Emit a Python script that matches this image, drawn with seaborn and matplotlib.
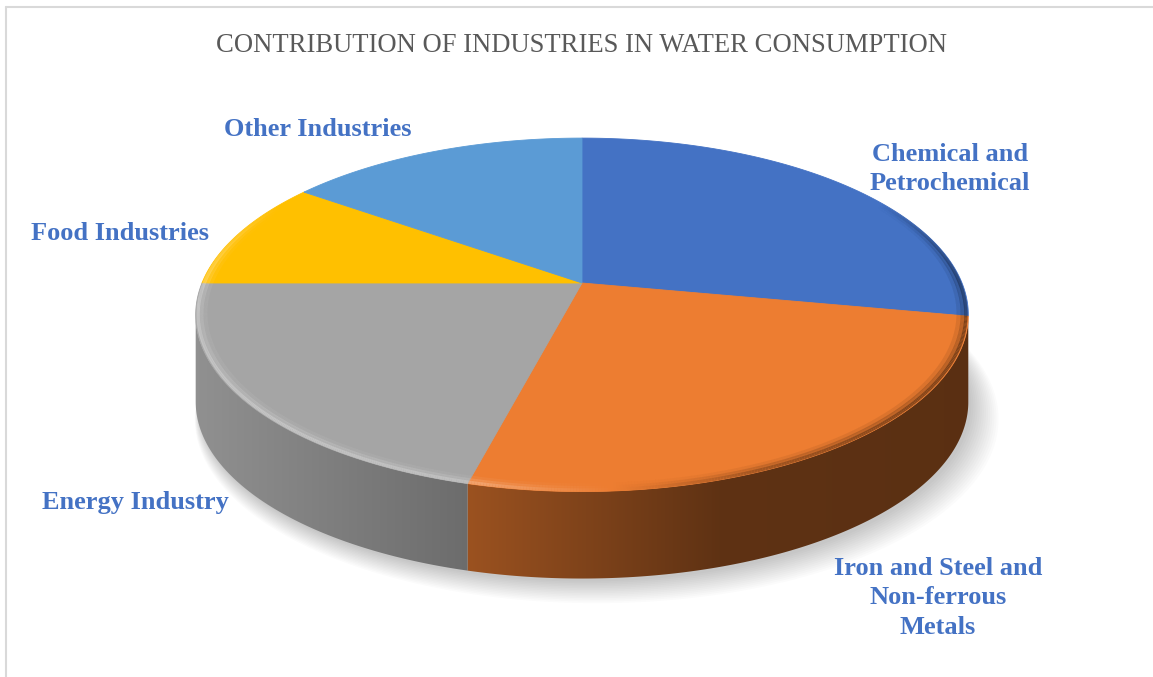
import numpy as np
import matplotlib
matplotlib.use("Agg")
import matplotlib.pyplot as plt
from matplotlib.collections import LineCollection
from matplotlib.patches import Polygon
from matplotlib.colors import to_rgb
import seaborn as sns

# ---- data -------------------------------------------------------------
industries = [
    "Chemical and\nPetrochemical",
    "Iron and Steel and\nNon-ferrous\nMetals",
    "Energy Industry",
    "Food Industries",
    "Other Industries",
]
shares = [28, 26, 21, 10, 15]
slice_colors = ["#4472C4", "#ED7D31", "#A5A5A5", "#FFC000", "#5B9BD5"]
chart_title = "CONTRIBUTION OF INDUSTRIES IN WATER CONSUMPTION"

# label anchor points (pixel space of the canvas)
label_pos = [(950, 169), (938, 598), (135, 503), (120, 233), (318, 129)]

# ---- style ------------------------------------------------------------
sns.set_theme(style="white")
plt.rcParams["font.family"] = ["Liberation Serif", "DejaVu Serif"]
palette = sns.color_palette(slice_colors)

W, H = 1153, 677
fig = plt.figure(figsize=(W / 100, H / 100), dpi=100)
ax = fig.add_axes([0, 0, 1, 1])

# disc geometry: centre, radii, perspective factor and wall thickness
CX, CY, SX, SY, K, DEPTH = 582, 283, 380, 171, 0.18, 87


def project(theta_deg, r=1.0, drop=0.0):
    """Map an angle on the unit disc (clockwise from 12 o'clock) to canvas."""
    t = np.radians(theta_deg)
    u = r * np.sin(t)
    v = r * np.cos(t)
    w = 1 + K * v
    return CX + SX * u / w, CY - SY * v / w + drop


fracs = np.asarray(shares, float) / np.sum(shares)
ends = np.cumsum(fracs) * 360.0
starts = np.concatenate([[0.0], ends[:-1]])

# visible part of the outer wall
th_r = np.degrees(np.arccos(-K))
th_l = 360.0 - th_r

# ---- soft shadow under the disc ---------------------------------------
full = np.linspace(0, 360, 400)
for i in range(14):
    xs, ys = project(full, r=1.0 + 0.003 * i, drop=DEPTH + 3 + 0.9 * i)
    ax.fill(xs + 3 + 0.9 * i, ys, color="black", alpha=0.016, lw=0, zorder=1)

# ---- outer wall with horizontal light falloff ---------------------------
xcols = np.arange(W) + 0.5
light = np.interp(xcols, [190, 463, 720, 1000], [0.88, 0.66, 0.40, 0.38])
for a1, a2, col in zip(starts, ends, palette):
    lo, hi = max(a1, th_r), min(a2, th_l)
    if lo >= hi:
        continue
    th = np.linspace(lo, hi, 300)
    xt, yt = project(th)
    xb, yb = project(th, drop=DEPTH)
    verts = np.column_stack([np.concatenate([xt, xb[::-1]]),
                             np.concatenate([yt, yb[::-1]])])
    poly = Polygon(verts, closed=True, facecolor="none", edgecolor="none")
    ax.add_patch(poly)
    img = np.clip(np.outer(light, np.array(to_rgb(col))), 0, 1)[None, :, :]
    im = ax.imshow(img, extent=(0, W, H, 0), aspect="auto",
                   interpolation="bilinear", zorder=2)
    im.set_clip_path(poly)

# ---- top faces --------------------------------------------------------
for a1, a2, col in zip(starts, ends, palette):
    th = np.linspace(a1, a2, 300)
    xs, ys = project(th)
    ax.fill(np.concatenate([[CX], xs]), np.concatenate([[CY], ys]),
            facecolor=col, edgecolor=col, lw=0.6, zorder=3)

# ---- rounded rim: lit on the left, shaded on the right -------------------
for a1, a2, col in zip(starts, ends, palette):
    lo, hi = max(a1, 60), min(a2, 300)
    if lo >= hi:
        continue
    base = np.array(to_rgb(col))
    th = np.linspace(lo, hi, 240)
    thm = 0.5 * (th[:-1] + th[1:])
    fade = np.clip((120 - np.abs(thm - 180)) / 30, 0, 1)
    for r, lw, alpha in [(0.994, 2.4, 0.85), (0.986, 3.0, 0.4),
                         (0.976, 3.2, 0.15)]:
        xs, ys = project(th, r=r)
        pts = np.column_stack([xs, ys])
        segs = np.stack([pts[:-1], pts[1:]], axis=1)
        xm = 0.5 * (xs[:-1] + xs[1:])
        g = np.interp(xm, [190, 480, 760, 975], [0.42, 0.32, -0.35, -0.55])
        rgb = np.where(g[:, None] > 0,
                       base + g[:, None] * (1 - base),
                       base * (1 + g[:, None]))
        rgba = np.column_stack([np.clip(rgb, 0, 1), alpha * fade])
        lc = LineCollection(segs, colors=rgba, linewidths=lw,
                            capstyle="butt", zorder=4)
        ax.add_collection(lc)

# ---- labels and title ----------------------------------------------------
for name, (lx, ly) in zip(industries, label_pos):
    ax.text(lx, ly, name, ha="center", va="center", fontsize=19,
            fontweight="bold", color="#4472C4", linespacing=1.38, zorder=5)

ax.text(582, 45, chart_title, ha="center", va="center", fontsize=19.2,
        color="#595959", zorder=5)

# chart frame
ax.plot([6, 6], [H + 5, 7], color="#d9d9d9", lw=1.5, zorder=0)
ax.plot([6, W + 5], [7, 7], color="#d9d9d9", lw=1.5, zorder=0)

ax.set_xlim(0, W)
ax.set_ylim(H, 0)
ax.axis("off")
fig.savefig("out.png", dpi=100, facecolor="white")
